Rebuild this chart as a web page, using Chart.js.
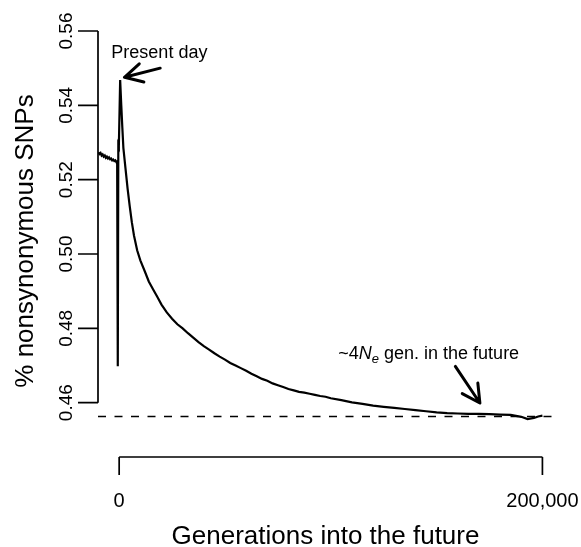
<!DOCTYPE html>
<html>
<head>
<meta charset="utf-8">
<script src="https://cdn.jsdelivr.net/npm/chart.js@4.4.1/dist/chart.umd.min.js"></script>
<style>
  body { margin: 0; background: #fff; }
  #wrap { width: 581px; height: 547px; }
</style>
</head>
<body>
<div id="wrap"><canvas id="snpChart" width="581" height="547"></canvas></div>
<script>
// generations relative to present day, and % nonsynonymous SNPs
var generations = [
  -9800, -9300, -8800, -8300, -7800, -7300, -6800, -6300, -5800, -5300,
  -4800, -4300, -3800, -3300, -2800, -2300, -1800, -1300, -950, -650,
  -400, -150, 470, 1000, 1500, 2000, 3000, 4000, 5000, 6000,
  7000, 8500, 10000, 12000, 14000, 16000, 18000, 20000, 22500, 25000,
  27500, 30000, 32500, 35000, 37500, 40000, 42500, 45000, 47500, 50000,
  52500, 55000, 57500, 60000, 62500, 65000, 67500, 70000, 72500, 75000,
  77500, 80000, 82500, 85000, 87500, 90000, 92500, 95000, 97500, 100000,
  105000, 110000, 115000, 120000, 125000, 130000, 135000, 140000, 145000, 150000,
  155000, 160000, 165000, 170000, 175000, 180000, 185000, 190000, 193000, 196000,
  198000, 200000
];
var nonsynPct = [
  0.5274, 0.5269, 0.5272, 0.5265, 0.5268, 0.5262, 0.5265, 0.5259, 0.5262, 0.5257,
  0.5260, 0.5255, 0.5257, 0.5252, 0.5254, 0.5250, 0.5252, 0.5247, 0.5249, 0.4698,
  0.5294, 0.5290, 0.5468, 0.5400, 0.5340, 0.5285, 0.5230, 0.5175, 0.5128, 0.5085,
  0.5050, 0.5010, 0.4983, 0.4955, 0.4926, 0.4905, 0.4885, 0.4864, 0.4843, 0.4826,
  0.4811, 0.4800, 0.4787, 0.4775, 0.4763, 0.4752, 0.4743, 0.4733, 0.4724, 0.4716,
  0.4707, 0.4700, 0.4693, 0.4686, 0.4678, 0.4671, 0.4664, 0.4659, 0.4652, 0.4647,
  0.4642, 0.4637, 0.4633, 0.4629, 0.4627, 0.4624, 0.4621, 0.4618, 0.4616, 0.4612,
  0.4607, 0.4601, 0.4597, 0.4592, 0.4589, 0.4586, 0.4583, 0.4580, 0.4577, 0.4574,
  0.4572, 0.4571, 0.4570, 0.4570, 0.4569, 0.4568, 0.4567, 0.4562, 0.4556, 0.4559,
  0.4563, 0.4565
];
var baselinePct = 0.4563;
var dashedSpan = [-10000, 205000];

var yTicks = [0.46, 0.48, 0.50, 0.52, 0.54, 0.56];
var yTickLabels = ['0.46', '0.48', '0.50', '0.52', '0.54', '0.56'];
var xTicks = [0, 200000];
var xTickLabels = ['0', '200,000'];

var xTitle = 'Generations into the future';
var yTitle = '% nonsynonymous SNPs';

// annotation anchors in data units
var presentLabel = { x: 19000, y: 0.55266, text: 'Present day' };
var presentArrow = { x0: 19385, y0: 0.5500, x1: 2506, y1: 0.54755 };
var futureLabel = { x: 103540, y: 0.47183 };
var futureArrow = { x0: 158860, y0: 0.46976, x1: 170450, y1: 0.45992 };

var FONT = "'Liberation Sans', Arial, Helvetica, sans-serif";

function lineData(xs, ys) {
  var out = [];
  for (var i = 0; i < xs.length; i++) out.push({ x: xs[i], y: ys[i] });
  return out;
}

function drawArrow(ctx, x0, y0, x1, y1) {
  var ang = Math.atan2(y1 - y0, x1 - x0);
  var len = 20, spread = 28 * Math.PI / 180;
  ctx.beginPath();
  ctx.moveTo(x0, y0);
  ctx.lineTo(x1, y1);
  ctx.moveTo(x1 - len * Math.cos(ang - spread), y1 - len * Math.sin(ang - spread));
  ctx.lineTo(x1, y1);
  ctx.lineTo(x1 - len * Math.cos(ang + spread), y1 - len * Math.sin(ang + spread));
  ctx.stroke();
}

// R-style axes: detached x axis, y axis only over the tick range
var baseAxes = {
  id: 'baseAxes',
  afterDraw: function(chart) {
    var ctx = chart.ctx;
    var xs = chart.scales.x, ys = chart.scales.y;
    var area = chart.chartArea;
    ctx.save();
    ctx.strokeStyle = '#000';
    ctx.fillStyle = '#000';
    ctx.lineWidth = 1.7;
    ctx.lineCap = 'butt';

    // y axis
    var yTop = ys.getPixelForValue(yTicks[yTicks.length - 1]);
    var yBot = ys.getPixelForValue(yTicks[0]);
    ctx.beginPath();
    ctx.moveTo(area.left, yTop);
    ctx.lineTo(area.left, yBot);
    for (var i = 0; i < yTicks.length; i++) {
      var py = ys.getPixelForValue(yTicks[i]);
      ctx.moveTo(area.left, py);
      ctx.lineTo(area.left - 20, py);
    }
    ctx.stroke();
    ctx.font = '19px ' + FONT;
    ctx.textAlign = 'center';
    ctx.textBaseline = 'alphabetic';
    for (var j = 0; j < yTicks.length; j++) {
      ctx.save();
      ctx.translate(area.left - 26, ys.getPixelForValue(yTicks[j]));
      ctx.rotate(-Math.PI / 2);
      ctx.fillText(yTickLabels[j], 0, 0);
      ctx.restore();
    }

    // x axis
    var axisY = 457;
    var xl = xs.getPixelForValue(xTicks[0]);
    var xr = xs.getPixelForValue(xTicks[xTicks.length - 1]);
    ctx.beginPath();
    ctx.moveTo(xl, axisY);
    ctx.lineTo(xr, axisY);
    for (var k = 0; k < xTicks.length; k++) {
      var px = xs.getPixelForValue(xTicks[k]);
      ctx.moveTo(px, axisY);
      ctx.lineTo(px, axisY + 18);
    }
    ctx.stroke();
    ctx.font = '20px ' + FONT;
    for (var m = 0; m < xTicks.length; m++) {
      ctx.fillText(xTickLabels[m], xs.getPixelForValue(xTicks[m]), 507);
    }

    // titles
    ctx.font = '26px ' + FONT;
    ctx.fillText(xTitle, (area.left + area.right) / 2, 544);
    ctx.save();
    ctx.translate(33, 241);
    ctx.rotate(-Math.PI / 2);
    ctx.fillText(yTitle, 0, 0);
    ctx.restore();

    // annotations
    ctx.font = '18px ' + FONT;
    ctx.fillText(presentLabel.text, xs.getPixelForValue(presentLabel.x), ys.getPixelForValue(presentLabel.y));

    var fx = xs.getPixelForValue(futureLabel.x);
    var fy = ys.getPixelForValue(futureLabel.y);
    ctx.textAlign = 'left';
    ctx.fillText('~4', fx, fy);
    fx += ctx.measureText('~4').width;
    ctx.font = 'italic 18px ' + FONT;
    ctx.fillText('N', fx, fy);
    fx += ctx.measureText('N').width;
    ctx.font = 'italic 13px ' + FONT;
    ctx.fillText('e', fx, fy + 4);
    fx += ctx.measureText('e').width;
    ctx.font = '18px ' + FONT;
    ctx.fillText(' gen. in the future', fx, fy);

    ctx.lineWidth = 3;
    ctx.lineCap = 'round';
    ctx.lineJoin = 'round';
    drawArrow(ctx,
      xs.getPixelForValue(presentArrow.x0), ys.getPixelForValue(presentArrow.y0),
      xs.getPixelForValue(presentArrow.x1), ys.getPixelForValue(presentArrow.y1));
    drawArrow(ctx,
      xs.getPixelForValue(futureArrow.x0), ys.getPixelForValue(futureArrow.y0),
      xs.getPixelForValue(futureArrow.x1), ys.getPixelForValue(futureArrow.y1));
    ctx.restore();
  }
};

var ctx = document.getElementById('snpChart').getContext('2d');
var snpChart = new Chart(ctx, {
  type: 'line',
  data: {
    datasets: [
      {
        label: 'nonsynonymous',
        data: lineData(generations, nonsynPct),
        borderColor: '#000',
        borderWidth: 2.2,
        pointRadius: 0,
        tension: 0,
        fill: false
      },
      {
        label: 'equilibrium',
        data: lineData(dashedSpan, [baselinePct, baselinePct]),
        borderColor: '#000',
        borderWidth: 1.5,
        borderDash: [8, 8.5],
        pointRadius: 0,
        fill: false
      }
    ]
  },
  options: {
    responsive: false,
    devicePixelRatio: 1,
    animation: false,
    layout: { padding: { left: 98, right: 28, top: 31, bottom: 122 } },
    scales: {
      x: { type: 'linear', display: false, min: -10000, max: 205000 },
      y: { type: 'linear', display: false, min: 0.454, max: 0.56 }
    },
    plugins: {
      legend: { display: false },
      tooltip: { enabled: false }
    }
  },
  plugins: [baseAxes]
});
</script>
</body>
</html>
